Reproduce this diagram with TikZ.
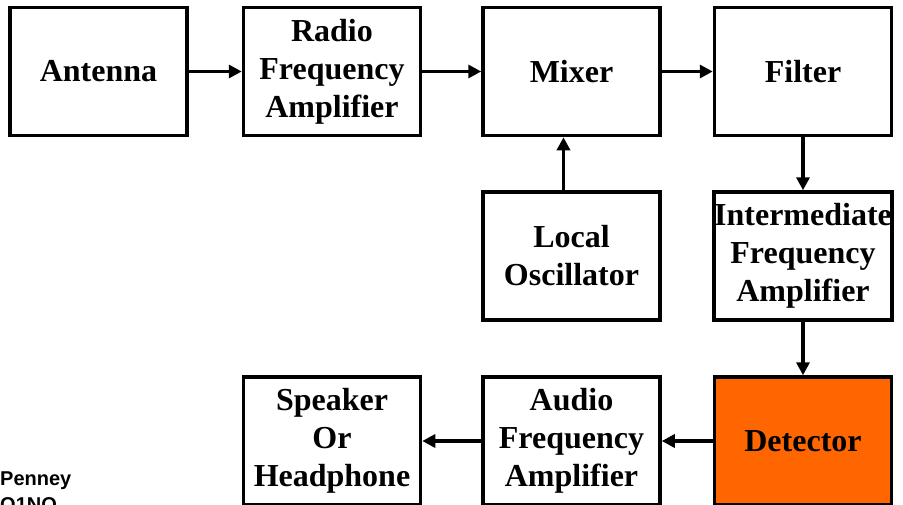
\documentclass[tikz,border=0pt]{standalone}
\usepackage{fontspec}
\setmainfont{Liberation Serif}
\setsansfont{Liberation Sans}
\usetikzlibrary{arrows.meta}
\definecolor{detorange}{HTML}{FF6600}

\begin{document}
\begin{tikzpicture}[x=1pt,y=-1pt,
  block/.style={draw,line width=3.5pt,minimum width=177pt,minimum height=128pt,
    align=center,inner sep=0pt,font=\fontsize{32}{38}\selectfont\bfseries},
  flow/.style={line width=3.5pt,-{Triangle[length=13pt,width=13pt]}},
  credit/.style={anchor=base west,inner sep=0pt,font=\sffamily\bfseries\fontsize{20}{24}\selectfont}]
\clip (0,0) rectangle (903,504);
\node[block] (ant) at (98.5,71.5) {Antenna};
\node[block] (rf) at (332,71.5) {Radio\\Frequency\\Amplifier};
\node[block] (mix) at (571.5,71.5) {Mixer};
\node[block] (filt) at (803,71.5) {Filter};
\node[block] (lo) at (571.5,256) {Local\\Oscillator};
\node[block] (ifa) at (803,256) {Intermediate\\Frequency\\Amplifier};
\node[block,fill=detorange] (det) at (803,441) {Detector};
\node[block] (afa) at (571.5,441) {Audio\\Frequency\\Amplifier};
\node[block] (spk) at (332,441) {Speaker\\Or\\Headphone};
\node[credit] (name) at (0,485) {Penney};
\node[credit] (call) at (0,511) {O1NO};
% signal path
\draw[flow] (ant) -- (rf);
\draw[flow] (rf) -- (mix);
\draw[flow] (mix) -- (filt);
\draw[flow] (filt) -- (ifa);
\draw[flow] (ifa) -- (det);
\draw[flow] (det) -- (afa);
\draw[flow] (afa) -- (spk);
\draw[flow] ([xshift=-8pt]lo.north) -- ([xshift=-8pt]mix.south);
\end{tikzpicture}
\end{document}
